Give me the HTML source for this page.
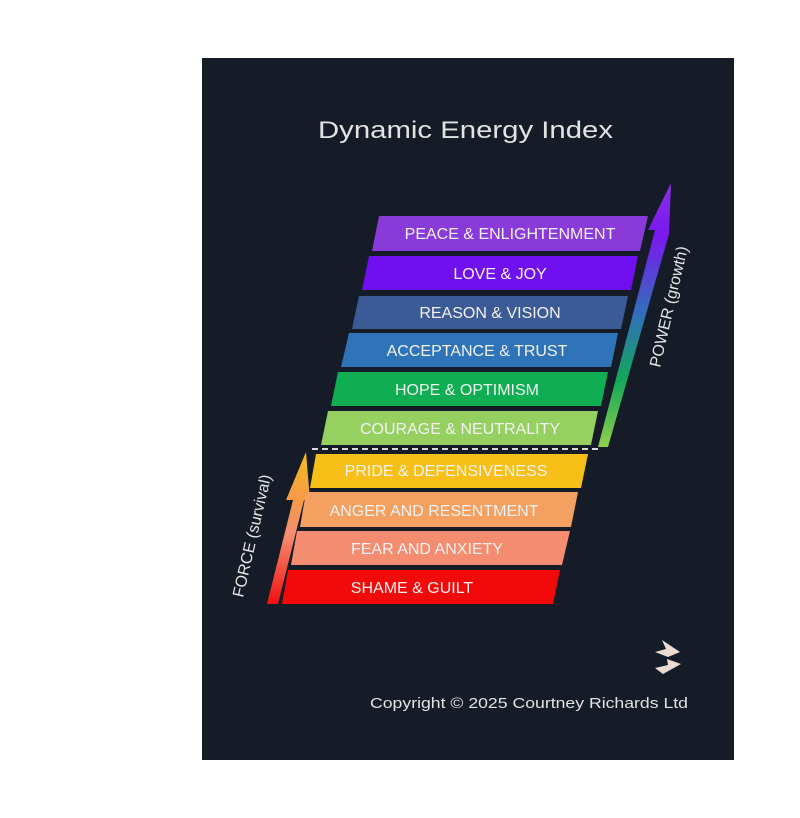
<!DOCTYPE html>
<html><head><meta charset="utf-8"><style>
html,body{margin:0;padding:0;background:#fff;}
svg{display:block;}
text{font-family:"Liberation Sans",sans-serif;}
</style></head><body>
<svg width="800" height="818" viewBox="0 0 800 818" xmlns="http://www.w3.org/2000/svg">
<defs>
<linearGradient id="pw" gradientUnits="userSpaceOnUse" x1="0" y1="447" x2="0" y2="183">
<stop offset="0" stop-color="#8fd04c"/><stop offset="0.25" stop-color="#12a85a"/>
<stop offset="0.5" stop-color="#3070b8"/><stop offset="0.8" stop-color="#7a18f0"/><stop offset="1" stop-color="#8a30e8"/>
</linearGradient>
<linearGradient id="fc" gradientUnits="userSpaceOnUse" x1="0" y1="604" x2="0" y2="452">
<stop offset="0" stop-color="#f21010"/><stop offset="0.45" stop-color="#f48c70"/>
<stop offset="0.75" stop-color="#f6a040"/><stop offset="1" stop-color="#f6c018"/>
</linearGradient>
</defs>
<rect x="202" y="58" width="532" height="702" fill="#161c27"/>
<text x="318" y="138" font-size="24" fill="#e2e2e2" textLength="295" lengthAdjust="spacingAndGlyphs">Dynamic Energy Index</text>

<!-- power arrow -->
<polygon points="671,183 669,234 608,447 598,447 655,230 648,230" fill="url(#pw)"/>
<text transform="translate(660,368) rotate(-77)" font-size="16" fill="#e6e6e6">POWER (growth)</text>

<!-- force arrow -->
<polygon points="306,452 310,500 304,500 278,604 267,604 293,500 286,500" fill="url(#fc)"/>
<text transform="translate(243,598) rotate(-77)" font-size="16" fill="#e6e6e6">FORCE (survival)</text>

<g font-size="16" fill="#f2f2f2" text-anchor="middle">
<polygon points="379,216 648,216 640,251 372,251" fill="#8a3ad8"/><text x="510" y="239">PEACE &amp; ENLIGHTENMENT</text>
<polygon points="369,256 638,256 631,290 362,290" fill="#7010f0"/><text x="500" y="279">LOVE &amp; JOY</text>
<polygon points="359,296 628,296 621,329 352,329" fill="#3b5a96"/><text x="490" y="318">REASON &amp; VISION</text>
<polygon points="349,333 618,333 611,367 341,367" fill="#2f74b8"/><text x="477" y="356">ACCEPTANCE &amp; TRUST</text>
<polygon points="338,372 608,372 601,406 331,406" fill="#0fae52"/><text x="467" y="395">HOPE &amp; OPTIMISM</text>
<polygon points="328,411 598,411 591,445 321,445" fill="#96d060"/><text x="460" y="434">COURAGE &amp; NEUTRALITY</text>
<line x1="312" y1="449" x2="602" y2="449" stroke="#d8d8d8" stroke-width="2" stroke-dasharray="6,4"/>
<polygon points="316,454 588,454 581,488 310,488" fill="#f6c018"/><text x="446" y="476">PRIDE &amp; DEFENSIVENESS</text>
<polygon points="306,492 578,492 571,527 300,527" fill="#f4a060"/><text x="434" y="516">ANGER AND RESENTMENT</text>
<polygon points="297,531 570,531 562,565 291,565" fill="#f48c70"/><text x="427" y="554">FEAR AND ANXIETY</text>
<polygon points="288,570 560,570 553,604 282,604" fill="#f20a0a"/><text x="412" y="593">SHAME &amp; GUILT</text>
</g>

<!-- logo -->
<polygon points="662,640 680,652 668,657 655,652 666,649" fill="#eadcd2"/>
<polygon points="667,659 681,664 663,674 655,668 668,665" fill="#eadcd2"/>
<text x="370" y="708" font-size="15" fill="#e2e2e2" textLength="318" lengthAdjust="spacingAndGlyphs">Copyright © 2025 Courtney Richards Ltd</text>
</svg>
</body></html>
